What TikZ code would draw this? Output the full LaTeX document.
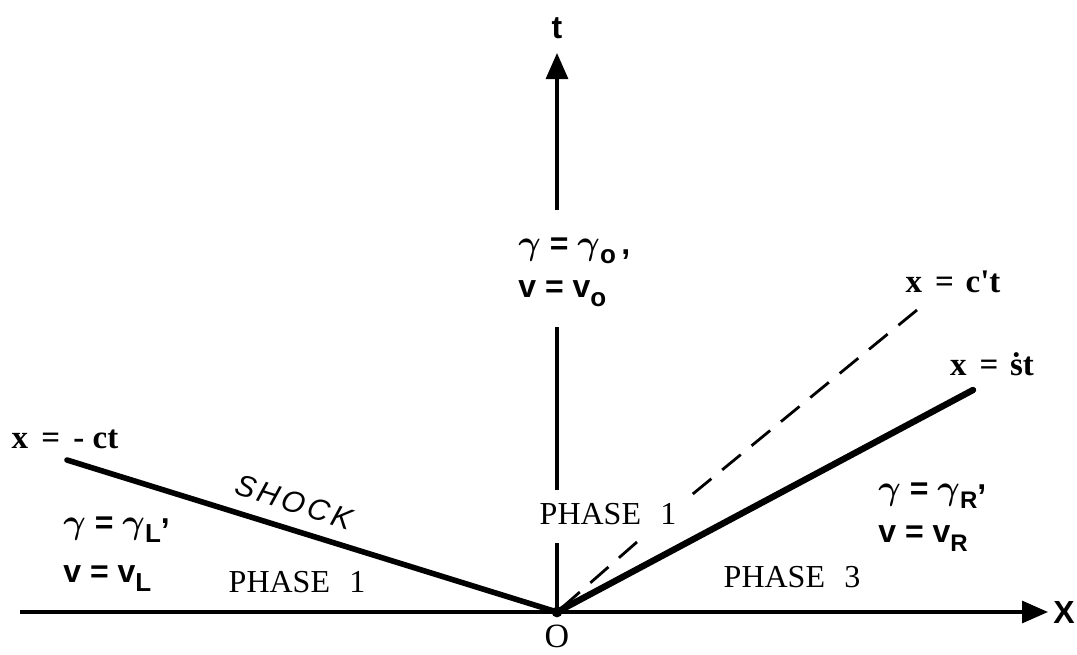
\documentclass[tikz,border=0pt]{standalone}
\usepackage{bm}
\usepackage{fontspec}
\setmainfont{Liberation Serif}
\setsansfont{Liberation Sans}
\newfontfamily\shockfont[LetterSpace=12]{Liberation Sans Italic}
\usetikzlibrary{arrows.meta}
\newcommand{\gm}{\ensuremath{\bm{\gamma}}}
\newcommand{\sbs}[2]{\raisebox{-0.55ex}{\fontsize{#1}{#1}\selectfont #2}}
\begin{document}
\begin{tikzpicture}[x=0.5pt,y=-0.5pt,
  axis/.style={line width=1.6pt},
  axarrow/.style={-{Triangle[length=13pt,width=11pt]}},
  shockline/.style={line width=2.8pt, line cap=round},
  fanline/.style={line width=1.4pt, dash pattern=on 12pt off 7pt},
  phase/.style={font=\fontsize{16}{18}\selectfont, inner sep=0pt},
  eqn/.style={font=\fontsize{16.5}{18}\selectfont\bfseries, inner sep=0pt},
  state/.style={font=\sffamily\bfseries\fontsize{15.5}{25}\selectfont, align=left, inner sep=0pt, anchor=west},
  axlabel/.style={font=\sffamily\bfseries\fontsize{16}{18}\selectfont, inner sep=0pt}
]
\useasboundingbox (0,0) rectangle (1077,654);
% key points
\coordinate (O) at (557,612);
\coordinate (xs) at (20,612);
\coordinate (xe) at (1048,612);
\coordinate (ttip) at (557,53);
\coordinate (g1) at (557,210);
\coordinate (g2) at (557,327);
\coordinate (g3) at (557,490);
\coordinate (g4) at (557,543);
\coordinate (shL) at (67,460);
\coordinate (shR) at (973,390);
\coordinate (dR) at (917,310);
\coordinate (dA) at (683,502);
\coordinate (dB) at (637,542);
% axes
\draw[axis,axarrow] (xs) -- (xe);
\draw[axis] (O) -- (g4);
\draw[axis] (g3) -- (g2);
\draw[axis,axarrow] (g1) -- (ttip);
% wave lines
\draw[fanline] (dR) -- (dA);
\draw[fanline] (dB) -- (O);
\draw[shockline] (shL) -- (O);
\draw[shockline, line width=3.2pt] (O) -- (shR);
\fill (O) circle (2.7pt);
% axis labels
\node[axlabel] (tl) at (557,28) {t};
\node[axlabel] (xl) at (1064,612) {X};
\node[phase, font=\fontsize{17}{18}\selectfont] (ol) at (557,636) {O};
% line labels
\node[eqn] (eqL) at (65,439) {x\hspace{0.4em}=\hspace{0.4em}-\hspace{0.25em}ct};
\node[eqn] (eqC) at (953,282) {x\hspace{0.4em}=\hspace{0.35em}c\textquotesingle t};
\node[eqn] (eqS) at (992,364) {x\hspace{0.4em}=\hspace{0.35em}\.st};
\node[font=\shockfont\fontsize{15}{17}\selectfont, rotate=-17.5, inner sep=0pt] (shk) at (294,502) {SHOCK};
% phases
\node[phase] (p1l) at (297,582) {PHASE\hspace{0.6em}1};
\node[phase] (p1c) at (608,514) {PHASE\hspace{0.6em}1};
\node[phase] (p3) at (792,577) {PHASE\hspace{0.6em}3};
% states
\node[state, font=\sffamily\bfseries\fontsize{16}{24.5}\selectfont] (sL) at (63,554) {\gm\ = \gm\sbs{13}{L}\raisebox{0.6ex}{,}\\ v = v\sbs{13}{L}};
\node[state, font=\sffamily\bfseries\fontsize{16}{21.5}\selectfont] (sC) at (518,272) {\gm\ = \gm\sbs{13}{o}\,,\\ v = v\sbs{13}{o}};
\node[state, font=\sffamily\bfseries\fontsize{16}{21.5}\selectfont] (sR) at (878,517) {\gm\ = \gm\sbs{12}{R}\raisebox{0.6ex}{,}\\ v = v\sbs{12}{R}};
\end{tikzpicture}
\end{document}
